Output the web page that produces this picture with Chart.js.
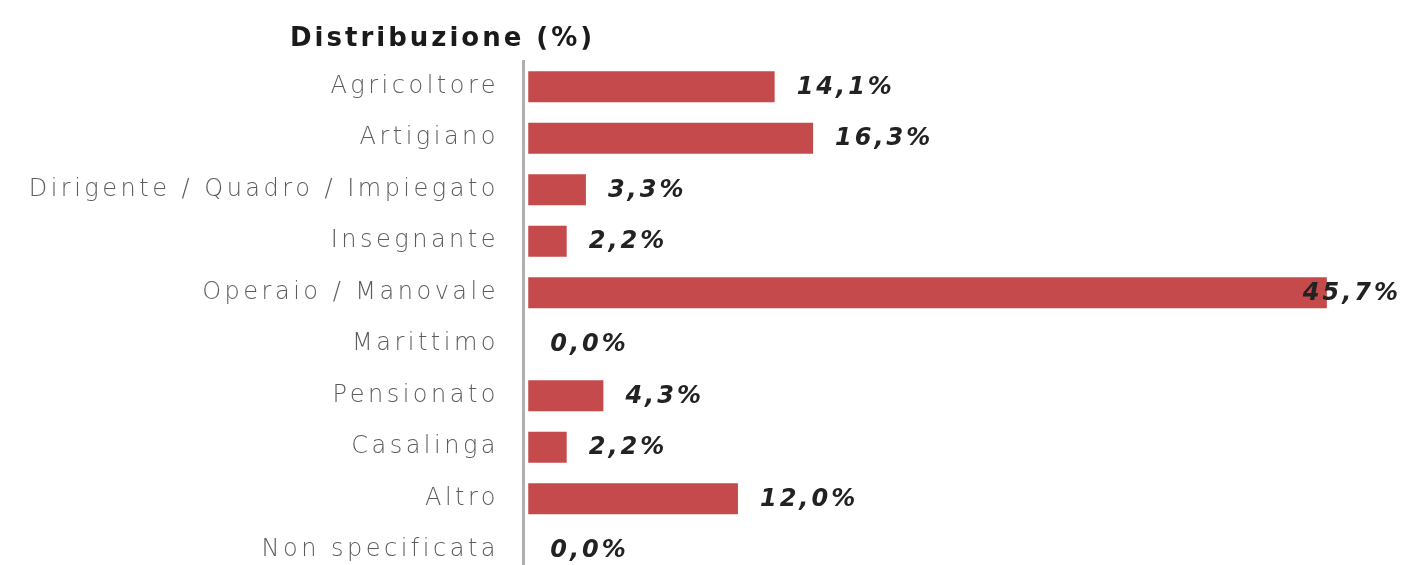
<!DOCTYPE html>
<html>
<head>
<meta charset="utf-8">
<script src="https://cdn.jsdelivr.net/npm/chart.js@4/dist/chart.umd.min.js"></script>
<style>
  html, body { margin: 0; padding: 0; background: #fff; overflow: hidden; }
</style>
</head>
<body>
<canvas id="chart" width="1402" height="580"></canvas>
<script>
// DATA
const categories = [
  "Agricoltore",
  "Artigiano",
  "Dirigente / Quadro / Impiegato",
  "Insegnante",
  "Operaio / Manovale",
  "Marittimo",
  "Pensionato",
  "Casalinga",
  "Altro",
  "Non specificata",
];
const distribuzione = [14.1, 16.3, 3.3, 2.2, 45.7, 0.0, 4.3, 2.2, 12.0, 0.0];
const titleText = "Distribuzione (%)";

// format 14.1 -> "14,1%"
function fmt(v) {
  return v.toFixed(1).replace(".", ",") + "%";
}

//wider letter spacing to look like the original font
const spacingPlugin = {
  id: "spacing",
  beforeDraw(chart) {
    chart.ctx.letterSpacing = "3.5px";
  },
};

//title drawn left of the axis, like the original
const titlePlugin = {
  id: "titleText",
  afterDraw(chart) {
    let ctx = chart.ctx;
    ctx.save();
    ctx.letterSpacing = "3px";
    ctx.font = "bold 26px 'DejaVu Sans'";
    ctx.fillStyle = "#1a1a1a";
    ctx.textBaseline = "middle";
    ctx.fillText(titleText, 290, 39);
    ctx.restore();
  },
};

//value labels at the end of each bar
const valuePlugin = {
  id: "valueLabels",
  afterDatasetsDraw(chart) {
    let ctx = chart.ctx;
    let meta = chart.getDatasetMeta(0);
    ctx.save();
    ctx.letterSpacing = "3px";
    ctx.font = "italic bold 24px 'DejaVu Sans'";
    ctx.fillStyle = "#222";
    ctx.textBaseline = "middle";
    meta.data.forEach((bar, i) => {
      let txt = fmt(distribuzione[i]);
      let w = ctx.measureText(txt).width;
      let x = bar.x + 22;
      if (x + w > chart.chartArea.right) x = bar.x - 24;
      ctx.fillText(txt, x, bar.y + 1);
    });
    ctx.restore();
  },
};

new Chart(document.getElementById("chart"), {
  type: "bar",
  data: {
    labels: categories,
    datasets: [
      {
        data: distribuzione,
        backgroundColor: "#c44a4c",
        borderWidth: 0,
        barThickness: 31,
        inflateAmount: 0,
      },
    ],
  },
  options: {
    responsive: false,
    indexAxis: "y",
    animation: false,
    layout: { padding: { top: 61, right: 0, bottom: 4, left: 0 } },
    plugins: {
      legend: { display: false },
      tooltip: { enabled: false },
    },
    scales: {
      x: {
        display: false,
        min: -0.3,
        max: 50,
      },
      y: {
        afterFit(scale) {
          scale.width = 523;
          scale.paddingTop = 0;
          scale.paddingBottom = 0;
        },
        grid: { display: false, drawTicks: false },
        border: { display: true, color: "#b0b0b0", width: 3 },
        ticks: {
          padding: 24,
          color: "#5c5c5c",
          font: { family: "'DejaVu Sans'", size: 24, weight: 200 },
        },
      },
    },
  },
  plugins: [spacingPlugin, titlePlugin, valuePlugin],
});
</script>
</body>
</html>
